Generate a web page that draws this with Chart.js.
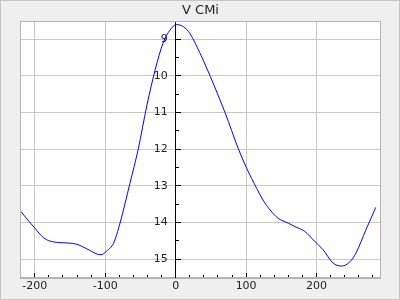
<!DOCTYPE html>
<html>
<head>
<meta charset="utf-8">
<script src="https://cdn.jsdelivr.net/npm/chart.js@4/dist/chart.umd.min.js"></script>
<style>
  html, body { margin: 0; padding: 0; background: #efefef; }
  #wrap { width: 400px; height: 300px; position: relative; }
</style>
</head>
<body>
<div id="wrap"><canvas id="myChart" width="400" height="300"></canvas></div>
<script>
// light curve of V CMi
var phase = [-219.5, -210, -200, -188, -178, -164, -147, -138, -126, -112, -106, -98,
  -88, -79, -65, -53, -41, -29, -18, -8, 1, 11, 20, 34, 49, 70, 89, 101, 115, 124,
  134, 145, 160, 171, 183, 197, 209, 223, 235, 247, 256, 270, 284];
var mag = [13.70, 13.93, 14.15, 14.41, 14.51, 14.55, 14.57, 14.61, 14.72, 14.86, 14.88, 14.78,
  14.56, 14.02, 12.94, 11.99, 10.82, 9.83, 9.11, 8.75, 8.60, 8.66, 8.84, 9.36, 10.01, 11.0, 11.99, 12.53, 13.07, 13.39,
  13.66, 13.88, 14.02, 14.13, 14.24, 14.51, 14.74, 15.10, 15.19, 15.08, 14.83, 14.20, 13.59];
var title = "V CMi";

// axis ranges and tick values
var xMin = -219.5, xMax = 290;
var yMin = 8.52, yMax = 15.51;
var xTicks = [-200, -100, 0, 100, 200];
var xMinorTicks = [-200, -180, -160, -140, -120, -100, -80, -60, -40, -20, 0,
  20, 40, 60, 80, 100, 120, 140, 160, 180, 200, 220, 240, 260, 280];
var yTicks = [9, 10, 11, 12, 13, 14, 15];
var yMinorTicks = [9, 9.5, 10, 10.5, 11, 11.5, 12, 12.5, 13, 13.5, 14, 14.5, 15];

var points = phase.map(function (p, i) { return { x: p, y: mag[i] }; });

function setTicks(list) {
  return function (axis) {
    axis.ticks = list.map(function (v) { return { value: v }; });
  };
}

var grey = "#c8c8c8";
var frame = "#b4b4b4";

// background, outer border and plot frame
var framePlugin = {
  id: "frame",
  beforeDraw: function (chart) {
    var c = chart.ctx, a = chart.chartArea;
    c.save();
    c.fillStyle = "#efefef";
    c.fillRect(0, 0, chart.width, chart.height);
    c.strokeStyle = "#c4c4c4";
    c.lineWidth = 1;
    c.strokeRect(0.5, 0.5, chart.width - 1, chart.height - 1);
    c.fillStyle = "#ffffff";
    c.fillRect(a.left, a.top, a.right - a.left, a.bottom - a.top);
    c.restore();
    // y labels sit a little left of the axis line
    chart.scales.y.getLabelItems().forEach(function (it) {
      if (!it._moved) { it.options.translation[0] -= 8; it._moved = true; }
    });
  },
  afterDraw: function (chart) {
    var c = chart.ctx, a = chart.chartArea;
    c.save();
    c.strokeStyle = frame;
    c.lineWidth = 1;
    c.strokeRect(Math.round(a.left) - 0.5, Math.round(a.top) - 0.5,
      Math.round(a.right) - Math.round(a.left) + 1, Math.round(a.bottom) - Math.round(a.top) + 1);
    c.restore();
  }
};

Chart.defaults.font.family = "'DejaVu Sans', sans-serif";
Chart.defaults.color = "#222";

var ctx = document.getElementById("myChart").getContext("2d");
var chart = new Chart(ctx, {
  type: "scatter",
  data: {
    datasets: [{
      data: points,
      showLine: true,
      borderColor: "#0000ff",
      borderWidth: 1,
      pointRadius: 0,
      cubicInterpolationMode: "monotone"
    }]
  },
  options: {
    responsive: false,
    animation: false,
    layout: { padding: { left: 21, right: 20, top: 0, bottom: 5 } },
    plugins: {
      legend: { display: false },
      tooltip: { enabled: false },
      title: {
        display: true,
        text: title,
        color: "#222",
        font: { size: 13, weight: "normal" },
        padding: { top: 3, bottom: 3 }
      }
    },
    scales: {
      x: {
        type: "linear",
        position: "bottom",
        min: xMin, max: xMax,
        afterBuildTicks: setTicks(xTicks),
        ticks: { autoSkip: false, maxRotation: 0, padding: 2, font: { size: 11 }, color: "#222" },
        grid: { color: grey, drawTicks: false },
        border: { color: frame }
      },
      xMajor: {
        type: "linear",
        position: { y: yMax },
        min: xMin, max: xMax,
        afterBuildTicks: setTicks(xTicks),
        ticks: { display: false },
        grid: { drawOnChartArea: false, tickLength: -5, tickColor: "#000" },
        border: { display: false }
      },
      xMinor: {
        type: "linear",
        position: { y: yMax },
        min: xMin, max: xMax,
        afterBuildTicks: setTicks(xMinorTicks),
        ticks: { display: false },
        grid: { drawOnChartArea: false, tickLength: -3, tickColor: "#000" },
        border: { display: false }
      },
      y: {
        type: "linear",
        position: { x: 0 },
        reverse: true,
        min: yMin, max: yMax,
        afterBuildTicks: setTicks(yTicks),
        ticks: { autoSkip: false, font: { size: 11 }, color: "#222" },
        grid: { color: grey, tickLength: -6, tickColor: "#000" },
        border: { color: "#000", width: 1 }
      },
      yMinor: {
        type: "linear",
        position: { x: 0 },
        reverse: true,
        min: yMin, max: yMax,
        afterBuildTicks: setTicks(yMinorTicks),
        ticks: { display: false },
        grid: { drawOnChartArea: false, tickLength: -3, tickColor: "#000" },
        border: { display: false }
      }
    }
  },
  plugins: [framePlugin]
});
</script>
</body>
</html>
